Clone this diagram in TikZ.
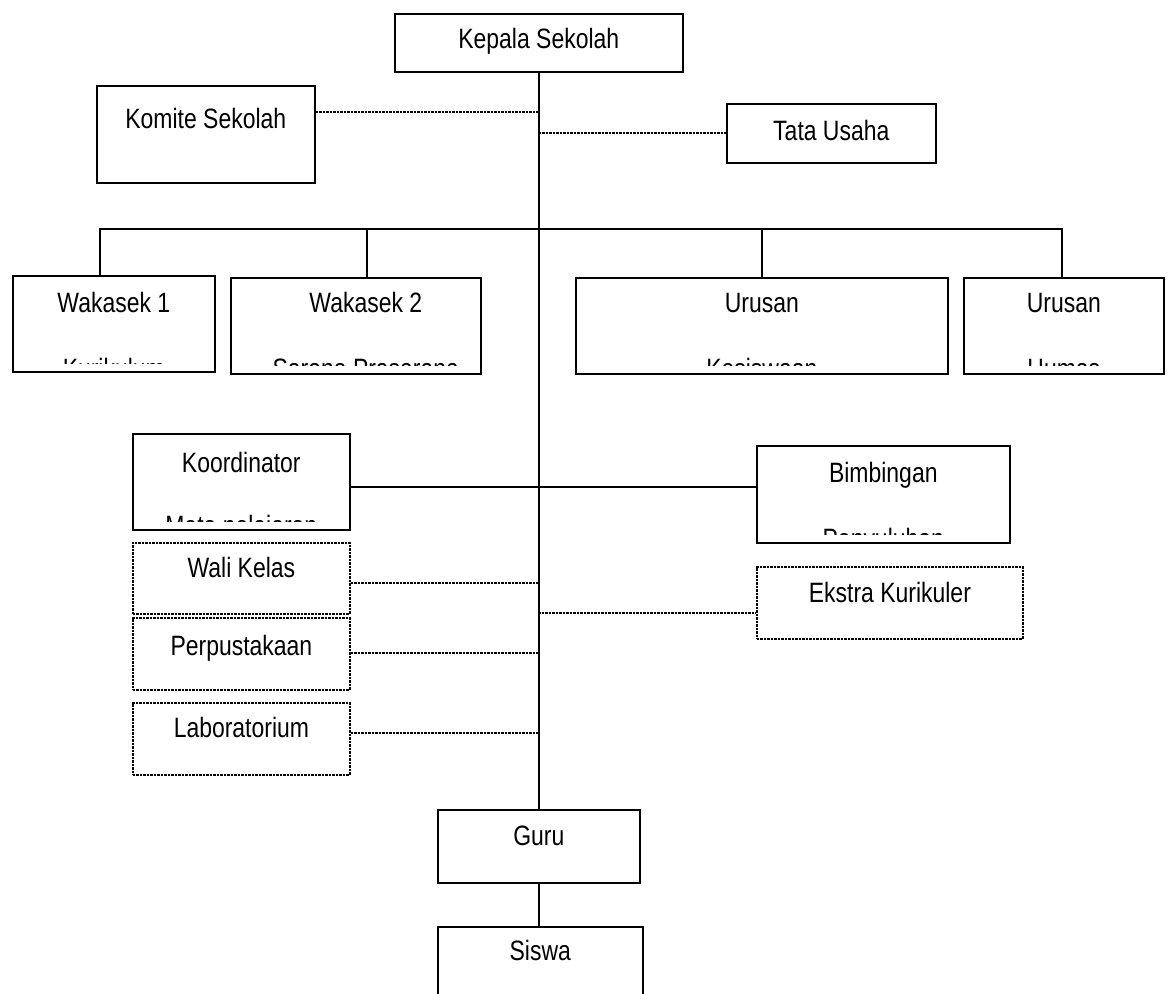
\documentclass[tikz,border=0pt]{standalone}
\usepackage{fontspec}
\setmainfont{Liberation Sans}[FakeStretch=0.82]
\usetikzlibrary{calc}
\tikzset{
	orgbox/.style={draw, line width=1.6pt, anchor=north west, inner sep=0pt},
	link/.style={line width=1.6pt},
	dotlink/.style={line width=1.8pt, dash pattern=on 2.5pt off 1pt},
	caption/.style={font=\fontsize{28pt}{34pt}\selectfont, anchor=base, inner sep=0pt}
}

\begin{document}
\begin{tikzpicture}[
	x=1pt, y=-1pt,
	dotbox/.style={orgbox, line width=1.8pt, dash pattern=on 2.5pt off 1pt},
	]
	\useasboundingbox (0,0) rectangle (1169,993);
	\clip (0,0) rectangle (1169,993);
	
	%% ── Top: head, committee, administration ─────────────────────────
	\node[orgbox, minimum width=288pt, minimum height=58pt] (kepala) at (394,13) {};
	\node[caption] (kepalat) at ([yshift=-35pt]kepala.north) {Kepala Sekolah};
	
	\node[orgbox, minimum width=218pt, minimum height=97pt] (komite) at (96,85) {};
	\node[caption] (komitet) at ([yshift=-43pt]komite.north) {Komite Sekolah};
	
	\node[orgbox, minimum width=209pt, minimum height=59pt] (tata) at (726,103) {};
	\node[caption] (tatat) at ([yshift=-37pt]tata.north) {Tata Usaha};
	
	%% ── Second row: deputies and offices ─────────────────────────────
	\node[orgbox, minimum width=202pt, minimum height=96pt] (waka1) at (12,275) {};
	\node[caption] (waka1t) at ([yshift=-37pt]waka1.north) {Wakasek 1};
	\begin{scope}
		\clip ([yshift=9pt]waka1.south west) rectangle (waka1.north east);
		\node[caption] (waka1b) at ([yshift=-103pt]waka1.north) {Kurikulum};
	\end{scope}
	
	\node[orgbox, minimum width=250pt, minimum height=96pt] (waka2) at (230,277) {};
	\node[caption] (waka2t) at ([xshift=10pt, yshift=-35pt]waka2.north) {Wakasek 2};
	\begin{scope}
		\clip ([yshift=9pt]waka2.south west) rectangle (waka2.north east);
		\node[caption] (waka2b) at ([xshift=10pt, yshift=-101pt]waka2.north) {Sarana Prasarana};
	\end{scope}
	
	\node[orgbox, minimum width=372pt, minimum height=96pt] (urusan1) at (575,277) {};
	\node[caption] (urusan1t) at ([yshift=-35pt]urusan1.north) {Urusan};
	\begin{scope}
		\clip ([yshift=9pt]urusan1.south west) rectangle (urusan1.north east);
		\node[caption] (urusan1b) at ([yshift=-101pt]urusan1.north) {Kesiswaan};
	\end{scope}
	
	\node[orgbox, minimum width=200pt, minimum height=96pt] (humas) at (963,277) {};
	\node[caption] (humast) at ([yshift=-35pt]humas.north) {Urusan};
	\begin{scope}
		\clip ([yshift=9pt]humas.south west) rectangle (humas.north east);
		\node[caption] (humasb) at ([yshift=-101pt]humas.north) {Humas};
	\end{scope}
	
	%% ── Middle: coordinator and counselling ──────────────────────────
	\node[orgbox, minimum width=217pt, minimum height=96pt] (koord) at (132,433) {};
	\node[caption] (koordt) at ([yshift=-39pt]koord.north) {Koordinator};
	\begin{scope}
		\clip ([yshift=9pt]koord.south west) rectangle (koord.north east);
		\node[caption] (koordb) at ([yshift=-102pt]koord.north) {Mata pelajaran};
	\end{scope}
	
	\node[orgbox, minimum width=253pt, minimum height=97pt] (bimb) at (756,445) {};
	\node[caption] (bimbt) at ([yshift=-37pt]bimb.north) {Bimbingan};
	\begin{scope}
		\clip ([yshift=9pt]bimb.south west) rectangle (bimb.north east);
		\node[caption] (bimbb) at ([yshift=-103pt]bimb.north) {Penyuluhan};
	\end{scope}
	
	%% ── Dotted units ─────────────────────────────────────────────────
	\node[dotbox, minimum width=217pt, minimum height=71pt] (wali) at (132,542) {};
	\node[caption] (walit) at ([yshift=-35pt]wali.north) {Wali Kelas};
	
	\node[dotbox, minimum width=217pt, minimum height=72pt] (perpus) at (132,617) {};
	\node[caption] (perpust) at ([yshift=-38pt]perpus.north) {Perpustakaan};
	
	\node[dotbox, minimum width=217pt, minimum height=72pt] (lab) at (132,702) {};
	\node[caption] (labt) at ([yshift=-35pt]lab.north) {Laboratorium};
	
	\node[dotbox, minimum width=266pt, minimum height=72pt] (ekstra) at (756,566) {};
	\node[caption] (ekstrat) at ([yshift=-36pt]ekstra.north) {Ekstra Kurikuler};
	
	%% ── Bottom: teachers and students ────────────────────────────────
	\node[orgbox, minimum width=202pt, minimum height=73pt] (guru) at (437,809) {};
	\node[caption] (gurut) at ([yshift=-36pt]guru.north) {Guru};
	
	\node[orgbox, minimum width=205pt, minimum height=100pt] (siswa) at (437,926) {};
	\node[caption] (siswat) at ([yshift=-34pt]siswa.north) {Siswa};
	
	%% ── Joints on the spine ──────────────────────────────────────────
	\coordinate (jkom) at (538,112);
	\coordinate (jkoor) at (538,487);
	\coordinate (jwali) at (538,583);
	\coordinate (jeks) at (538,613);
	\coordinate (jperp) at (538,653);
	\coordinate (jlab) at (538,733);
	
	%% ── Solid lines ──────────────────────────────────────────────────
	\draw[link] (kepala.south) -- (guru.north);
	\draw[link] (guru.south) -- (guru.south |- siswa.north);
	\draw[link] ([xshift=-14pt]waka1.north) -- ++(0,-46) -| ([xshift=-2pt]humas.north);
	\draw[link] ([xshift=11pt]waka2.north) -- ++(0,-48);
	\draw[link] (urusan1.north) -- ++(0,-48);
	\draw[link] (jkoor -| koord.east) -- (jkoor -| bimb.west);
	
	%% ── Dotted lines ─────────────────────────────────────────────────
	\draw[dotlink] (jkom -| komite.east) -- (jkom);
	\draw[dotlink] (tata.west -| kepala.south) -- (tata.west);
	\draw[dotlink] (jwali -| wali.east) -- (jwali);
	\draw[dotlink] (jperp -| perpus.east) -- (jperp);
	\draw[dotlink] (jlab -| lab.east) -- (jlab);
	\draw[dotlink] (jeks) -- (jeks -| ekstra.west);
	
\end{tikzpicture}
\end{document}
